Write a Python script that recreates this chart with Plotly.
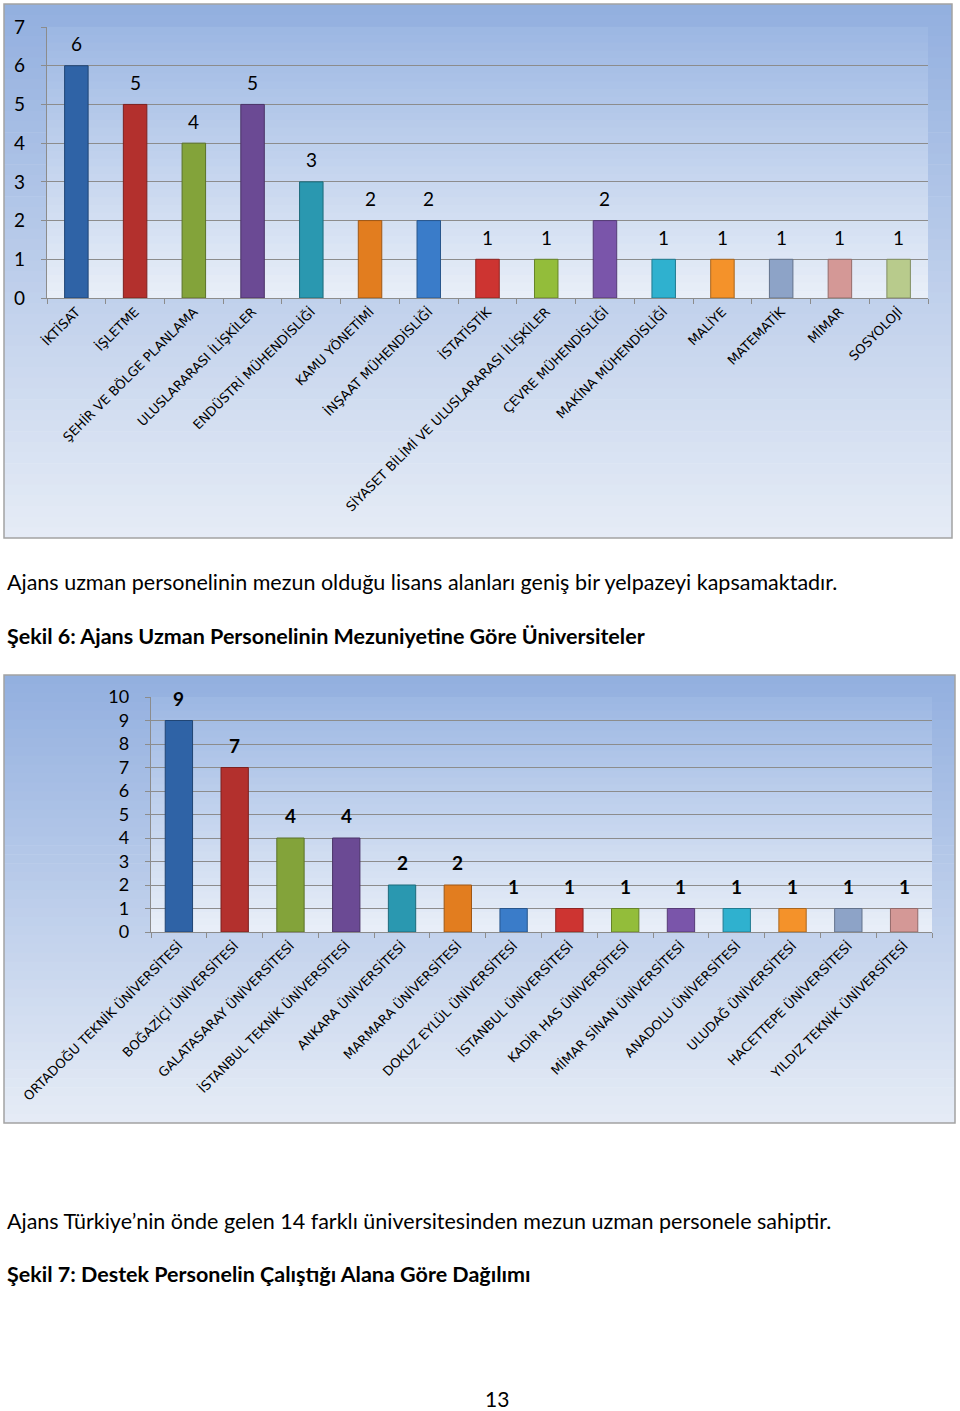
import plotly.graph_objects as go

W, H = 960, 1411

# ---------------- data ----------------
fields = ["İKTİSAT", "İŞLETME", "ŞEHİR VE BÖLGE PLANLAMA", "ULUSLARARASI İLİŞKİLER",
          "ENDÜSTRİ MÜHENDİSLİĞİ", "KAMU YÖNETİMİ", "İNŞAAT MÜHENDİSLİĞİ", "İSTATİSTİK",
          "SİYASET BİLİMİ VE ULUSLARARASI İLİŞKİLER", "ÇEVRE MÜHENDİSLİĞİ",
          "MAKİNA MÜHENDİSLİĞİ", "MALİYE", "MATEMATİK", "MİMAR", "SOSYOLOJİ"]
field_counts = [6, 5, 4, 5, 3, 2, 2, 1, 1, 2, 1, 1, 1, 1, 1]

universities = ["ORTADOĞU TEKNİK ÜNİVERSİTESİ", "BOĞAZİÇİ ÜNİVERSİTESİ",
                "GALATASARAY ÜNİVERSİTESİ", "İSTANBUL TEKNİK ÜNİVERSİTESİ",
                "ANKARA ÜNİVERSİTESİ", "MARMARA ÜNİVERSİTESİ", "DOKUZ EYLÜL ÜNİVERSİTESİ",
                "İSTANBUL ÜNİVERSİTESİ", "KADİR HAS ÜNİVERSİTESİ", "MİMAR SİNAN ÜNİVERSİTESİ",
                "ANADOLU ÜNİVERSİTESİ", "ULUDAĞ ÜNİVERSİTESİ", "HACETTEPE ÜNİVERSİTESİ",
                "YILDIZ TEKNİK ÜNİVERSİTESİ"]
university_counts = [9, 7, 4, 4, 2, 2, 1, 1, 1, 1, 1, 1, 1, 1]

field_ticks = [0, 1, 2, 3, 4, 5, 6, 7]
univ_ticks = [0, 1, 2, 3, 4, 5, 6, 7, 8, 9, 10]

# ---------------- styles ----------------
palette1 = ["#2f63a6", "#b3302d", "#83a33a", "#6b4a94", "#2a98b0", "#e27d1f",
            "#3a7cc9", "#cd3431", "#93bd3a", "#7a55aa", "#2fb1cf", "#f4922a",
            "#8da3c7", "#d49896", "#b8cb8c"]
palette2 = ["#2f63a6", "#b3302d", "#83a33a", "#6b4a94", "#2a98b0", "#e27d1f",
            "#3a7cc9", "#cd3431", "#93bd3a", "#7a55aa", "#2fb1cf", "#f4922a",
            "#8da3c7", "#d49896"]


def darker(hexc, f=0.7):
    h = hexc.lstrip("#")
    r, g, b = int(h[0:2], 16), int(h[2:4], 16), int(h[4:6], 16)
    return "rgb(%d,%d,%d)" % (r * f, g * f, b * f)


def px(x):
    return x / W


def py(y):
    return 1 - y / H


def lerp(c1, c2, t):
    a = [int(c1[i:i + 2], 16) for i in (1, 3, 5)]
    b = [int(c2[i:i + 2], 16) for i in (1, 3, 5)]
    return "rgb(%d,%d,%d)" % tuple(round(a[k] + (b[k] - a[k]) * t) for k in range(3))


shapes = []


def gradient(x0, x1, y0, y1, ctop, cbot, n=40):
    step = (y1 - y0) / n
    for i in range(n):
        ya = y0 + i * step
        yb = ya + step + 0.6
        shapes.append(dict(type="rect", xref="paper", yref="paper", layer="below",
                           x0=px(x0), x1=px(x1), y0=py(min(yb, y1)), y1=py(ya),
                           fillcolor=lerp(ctop, cbot, (i + 0.5) / n),
                           line=dict(width=0)))


def border(x0, x1, y0, y1):
    shapes.append(dict(type="rect", xref="paper", yref="paper", layer="above",
                       x0=px(x0), x1=px(x1), y0=py(y1), y1=py(y0),
                       fillcolor="rgba(0,0,0,0)", line=dict(color="#a3a3a3", width=1.5)))


C1 = dict(bx0=4, bx1=952, by0=4, by1=538, px0=47, px1=928, py0=27, py1=298)
C2 = dict(bx0=4, bx1=955, by0=675, by1=1123, px0=151, px1=932, py0=697, py1=932)

for C in (C1, C2):
    gradient(C["bx0"], C["bx1"], C["by0"], C["by1"], "#92afdf", "#e6ecf6", 50)
    gradient(C["px0"], C["px1"], C["py0"], C["py1"], "#9cb7e3", "#e9eff8", 35)
    border(C["bx0"], C["bx1"], C["by0"], C["by1"])

fig = go.Figure()

fig.add_trace(go.Bar(x=fields, y=field_counts, width=0.4,
                     marker=dict(color=palette1,
                                 line=dict(color=[darker(c) for c in palette1], width=1)),
                     xaxis="x", yaxis="y", hoverinfo="x+y"))
fig.add_trace(go.Bar(x=universities, y=university_counts, width=0.49,
                     marker=dict(color=palette2,
                                 line=dict(color=[darker(c) for c in palette2], width=1)),
                     xaxis="x2", yaxis="y2", hoverinfo="x+y"))

annotations = []
for f, v in zip(fields, field_counts):
    annotations.append(dict(x=f, y=v, xref="x", yref="y", text=str(v), showarrow=False,
                            yshift=22, yanchor="middle",
                            font=dict(family="Lato", size=19, color="#000")))
for u, v in zip(universities, university_counts):
    annotations.append(dict(x=u, y=v, xref="x2", yref="y2", text="<b>%d</b>" % v,
                            showarrow=False, yshift=22, yanchor="middle",
                            font=dict(family="Lato", size=19, color="#000")))

texts = [
    ("Ajans uzman personelinin mezun olduğu lisans alanları geniş bir yelpazeyi kapsamaktadır.", 582, False),
    ("Şekil 6: Ajans Uzman Personelinin Mezuniyetine Göre Üniversiteler", 636, True),
    ("Ajans Türkiye’nin önde gelen 14 farklı üniversitesinden mezun uzman personele sahiptir.", 1221, False),
    ("Şekil 7: Destek Personelin Çalıştığı Alana Göre Dağılımı", 1274, True),
]
for t, y, bold in texts:
    annotations.append(dict(x=px(5), y=py(y), xref="paper", yref="paper",
                            xanchor="left", yanchor="middle", showarrow=False,
                            text=("<b>%s</b>" % t) if bold else t,
                            font=dict(family="Lato", size=21.5, color="#000")))
annotations.append(dict(x=px(497), y=py(1398), xref="paper", yref="paper",
                        xanchor="center", yanchor="middle", showarrow=False, text="13",
                        font=dict(family="Lato", size=21, color="#000")))

grid = "#8c8c8c"
common_x = dict(type="category", tickangle=-45, ticks="outside", tickson="boundaries",
                ticklen=5, tickcolor=grid, showline=True, linecolor=grid, linewidth=1.3,
                showgrid=False, automargin=False,
                tickfont=dict(family="DejaVu Sans", size=13, color="#000"))
common_y = dict(showgrid=True, gridcolor=grid, gridwidth=1.3, ticks="outside", ticklen=5,
                tickcolor=grid, showline=True, linecolor=grid, linewidth=1.3,
                zeroline=False, automargin=False)

fig.update_layout(
    template="none",
    width=W, height=H, margin=dict(l=0, r=0, t=0, b=0, autoexpand=False),
    paper_bgcolor="white", plot_bgcolor="rgba(0,0,0,0)", showlegend=False,
    xaxis=dict(domain=[px(C1["px0"]), px(C1["px1"])], anchor="y", **common_x),
    yaxis=dict(domain=[py(C1["py1"]), py(C1["py0"])], anchor="x", range=[0, 7],
               tickvals=field_ticks, ticklabelstandoff=12,
               tickfont=dict(family="Lato", size=19, color="#000"), **common_y),
    xaxis2=dict(domain=[px(C2["px0"]), px(C2["px1"])], anchor="y2", **common_x),
    yaxis2=dict(domain=[py(C2["py1"]), py(C2["py0"])], anchor="x2", range=[0, 10],
                tickvals=univ_ticks, ticklabelstandoff=12,
                tickfont=dict(family="Lato", size=18, color="#000"), **common_y),
    shapes=shapes, annotations=annotations,
)

fig.write_html("out.html", config={"displayModeBar": False},
               post_script="document.body.style.margin='0';")
